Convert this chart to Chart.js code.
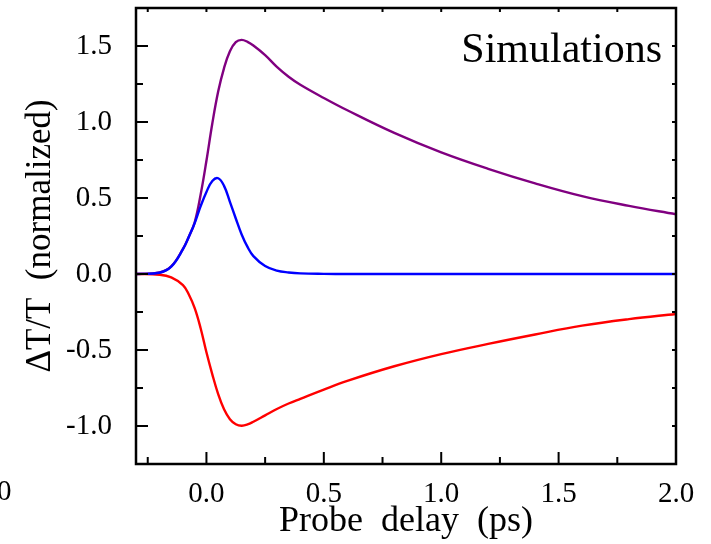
<!DOCTYPE html>
<html>
<head>
<meta charset="utf-8">
<script src="https://cdn.jsdelivr.net/npm/chart.js@4/dist/chart.umd.min.js"></script>
<style>
  html, body { margin: 0; padding: 0; background: #fff; }
  #wrap { width: 711px; height: 544px; }
</style>
</head>
<body>
<div id="wrap"><canvas id="simChart"></canvas></div>
<script>
// probe delay (ps) and the three simulated traces
const delay = [-0.3, -0.2, -0.15, -0.1, -0.075, -0.05, -0.025, 0, 0.025, 0.05, 0.075, 0.1, 0.125, 0.15,
  0.175, 0.2, 0.25, 0.3, 0.35, 0.4, 0.5, 0.6, 0.8, 1.0, 1.2, 1.4, 1.6, 1.8, 2.0];
const purpleSim = [0, 0.01, 0.05, 0.165, 0.245, 0.34, 0.52, 0.745, 0.99, 1.2, 1.355, 1.465, 1.525, 1.54,
  1.527, 1.503, 1.44, 1.363, 1.298, 1.245, 1.158, 1.077, 0.928, 0.8, 0.692, 0.596, 0.512, 0.448, 0.393];
const blueSim = [0, 0.008, 0.048, 0.163, 0.245, 0.335, 0.445, 0.54, 0.612, 0.63, 0.58, 0.475, 0.365, 0.26,
  0.178, 0.118, 0.052, 0.022, 0.01, 0.004, 0.001, 0, 0, 0, 0, 0, 0, 0, 0];
const redSim = [0, -0.005, -0.022, -0.073, -0.135, -0.225, -0.355, -0.515, -0.66, -0.79, -0.89, -0.955, -0.988, -0.998,
  -0.99, -0.972, -0.93, -0.888, -0.852, -0.821, -0.76, -0.703, -0.607, -0.527, -0.46, -0.398, -0.34, -0.297, -0.263];

const xTicks = [-0.25, 0, 0.25, 0.5, 0.75, 1, 1.25, 1.5, 1.75, 2];
const yTicks = [-1, -0.75, -0.5, -0.25, 0, 0.25, 0.5, 0.75, 1, 1.25, 1.5];

const serif = 'Liberation Serif';
const isMajor = v => Math.abs(v * 2 - Math.round(v * 2)) < 1e-6;
const pts = ys => delay.map((x, i) => ({ x, y: ys[i] }));

// inward ticks + box frame, and the panel label
const framePlugin = {
  id: 'frame',
  afterDatasetsDraw(chart) {
    const { ctx, chartArea: a, scales } = chart;
    ctx.save();
    ctx.strokeStyle = '#000';
    ctx.lineWidth = 2;
    ctx.beginPath();
    xTicks.forEach(v => {
      const px = scales.x.getPixelForValue(v);
      const len = isMajor(v) ? 12 : 7;
      ctx.moveTo(px, a.bottom); ctx.lineTo(px, a.bottom - len);
      ctx.moveTo(px, a.top); ctx.lineTo(px, a.top + 4);
    });
    yTicks.forEach(v => {
      const py = scales.y.getPixelForValue(v);
      const len = isMajor(v) ? 12 : 7;
      ctx.moveTo(a.left, py); ctx.lineTo(a.left + len, py);
      ctx.moveTo(a.right, py); ctx.lineTo(a.right - 4, py);
    });
    ctx.stroke();
    ctx.lineWidth = 2.5;
    ctx.strokeRect(a.left, a.top, a.right - a.left, a.bottom - a.top);

    ctx.fillStyle = '#000';
    ctx.font = `42px "${serif}"`;
    ctx.textAlign = 'right';
    ctx.textBaseline = 'alphabetic';
    ctx.fillText('Simulations', a.right - 14, a.top + 54);
    // stray label cut off from the neighbouring panel
    ctx.font = `29px "${serif}"`;
    ctx.textAlign = 'left';
    ctx.fillText('0', -3, 500);
    ctx.restore();
  }
};

const ctx = document.getElementById('simChart').getContext('2d');
new Chart(ctx, {
  type: 'scatter',
  data: {
    datasets: [
      { label: 'blue',   data: pts(blueSim),   borderColor: '#0000ff' },
      { label: 'purple', data: pts(purpleSim), borderColor: '#800080' },
      { label: 'red',    data: pts(redSim),    borderColor: '#ff0000' }
    ].map(d => ({ ...d, showLine: true, pointRadius: 0, borderWidth: 2.4, tension: 0.4 }))
  },
  options: {
    responsive: true, maintainAspectRatio: false, animation: false,
    layout: { padding: { top: 8, right: 35, bottom: 0, left: 0 } },
    plugins: { legend: { display: false }, tooltip: { enabled: false } },
    scales: {
      x: {
        type: 'linear', min: -0.3, max: 2.0,
        afterBuildTicks: s => { s.ticks = xTicks.map(value => ({ value })); },
        afterFit: s => { s.height = 80; s.paddingLeft = 0; s.paddingRight = 0; },
        grid: { display: false }, border: { display: false },
        ticks: { color: '#000', padding: 5, maxRotation: 0, autoSkip: false,
                 font: { family: serif, size: 29 },
                 callback: v => isMajor(v) ? Number(v).toFixed(1) : '' },
        title: { display: true, text: 'Probe  delay  (ps)', color: '#000',
                 font: { family: serif, size: 36 }, padding: { top: 0, bottom: 1 } }
      },
      y: {
        type: 'linear', min: -1.25, max: 1.75,
        afterBuildTicks: s => { s.ticks = yTicks.map(value => ({ value })); },
        afterFit: s => { s.width = 136; s.paddingTop = 0; s.paddingBottom = 0; },
        grid: { display: false }, border: { display: false },
        ticks: { color: '#000', padding: 16, autoSkip: false,
                 font: { family: serif, size: 29 },
                 callback: v => isMajor(v) ? Number(v).toFixed(1) : '' },
        title: { display: true, text: 'ΔT/T  (normalized)', color: '#000',
                 font: { family: serif, size: 35 }, padding: { top: 20, bottom: 0 } }
      }
    }
  },
  plugins: [framePlugin]
});
</script>
</body>
</html>
